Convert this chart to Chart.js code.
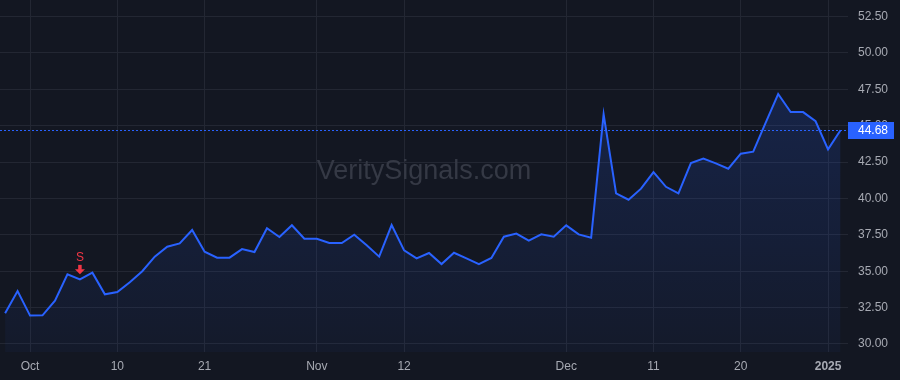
<!DOCTYPE html>
<html>
<head>
<meta charset="utf-8">
<script src="https://cdn.jsdelivr.net/npm/chart.js@4.4.1/dist/chart.umd.min.js"></script>
<style>
  html, body { margin: 0; padding: 0; background: #131722; }
  #wrap { width: 900px; height: 380px; }
</style>
</head>
<body>
<div id="wrap"><canvas id="chart"></canvas></div>
<script>
// trading days shown on the chart
const dates = [
  '2024-09-27','2024-09-30',
  '2024-10-01','2024-10-02','2024-10-03','2024-10-04','2024-10-07','2024-10-08','2024-10-09','2024-10-10',
  '2024-10-11','2024-10-14','2024-10-15','2024-10-16','2024-10-17','2024-10-18','2024-10-21','2024-10-22',
  '2024-10-23','2024-10-24','2024-10-25','2024-10-28','2024-10-29','2024-10-30','2024-10-31',
  '2024-11-01','2024-11-04','2024-11-05','2024-11-06','2024-11-07','2024-11-08','2024-11-11','2024-11-12',
  '2024-11-13','2024-11-14','2024-11-15','2024-11-18','2024-11-19','2024-11-20','2024-11-21','2024-11-22',
  '2024-11-25','2024-11-26','2024-11-27','2024-11-29',
  '2024-12-02','2024-12-03','2024-12-04','2024-12-05','2024-12-06','2024-12-09','2024-12-10','2024-12-11',
  '2024-12-12','2024-12-13','2024-12-16','2024-12-17','2024-12-18','2024-12-19','2024-12-20','2024-12-23',
  '2024-12-24','2024-12-26','2024-12-27','2024-12-30','2024-12-31',
  '2025-01-02','2025-01-03'
];

const closes = [
  32.11, 33.64,
  31.95, 31.97, 32.97, 34.79, 34.44, 34.90, 33.41, 33.57,
  34.24, 35.00, 36.00, 36.68, 36.91, 37.83, 36.34, 35.93,
  35.93, 36.52, 36.32, 37.95, 37.35, 38.16, 37.23,
  37.23, 36.94, 36.94, 37.51, 36.78, 36.00, 38.17, 36.43,
  35.88, 36.25, 35.49, 36.27, 35.88, 35.49, 35.91, 37.37,
  37.58, 37.10, 37.53, 37.37,
  38.15, 37.53, 37.30, 45.78, 40.35, 39.91, 40.67, 41.81,
  40.80, 40.35, 42.43, 42.73, 42.41, 42.04, 43.07, 43.21,
  45.20, 47.17, 45.93, 45.93, 45.30,
  43.37, 44.68
];

const tickDates = ['2024-10-01','2024-10-10','2024-10-21','2024-11-01','2024-11-12','2024-12-02','2024-12-11','2024-12-20','2025-01-02'];
const tickLabels = ['Oct','10','21','Nov','12','Dec','11','20','2025'];
const priceTicks = [30, 32.5, 35, 37.5, 40, 42.5, 45, 47.5, 50, 52.5];
const signalDates = ['2024-10-07'];
const signalLabels = ['S'];

const BLUE = '#2962ff';
const GRID = '#232733';
const TEXT = '#a7aab3';

const points = closes.map((v, i) => ({ x: i, y: v }));
const lastPrice = closes[closes.length - 1];

const chartExtras = {
  id: 'chartExtras',
  beforeDraw(chart) {
    const ctx = chart.ctx;
    ctx.save();
    ctx.fillStyle = '#131722';
    ctx.fillRect(0, 0, chart.width, chart.height);
    ctx.restore();
  },
  beforeDatasetsDraw(chart) {
    const { ctx, chartArea: a, scales: { y } } = chart;
    ctx.save();
    // watermark
    ctx.font = '27px "Liberation Sans", Arial, sans-serif';
    ctx.fillStyle = '#353945';
    ctx.textAlign = 'center';
    ctx.textBaseline = 'middle';
    ctx.fillText('VeritySignals.com', (a.left + a.right) / 2, (a.top + a.bottom) / 2 - 4);
    // last price dotted line
    const py = Math.round(y.getPixelForValue(lastPrice)) + 0.5;
    ctx.strokeStyle = BLUE;
    ctx.lineWidth = 1;
    ctx.setLineDash([2, 2]);
    ctx.beginPath();
    ctx.moveTo(a.left, py);
    ctx.lineTo(a.right, py);
    ctx.stroke();
    ctx.restore();
  },
  afterDatasetsDraw(chart) {
    const { ctx, chartArea: a, scales: { x, y } } = chart;
    ctx.save();
    // signal markers
    signalDates.forEach((d, k) => {
      const i = dates.indexOf(d);
      const px = x.getPixelForValue(i);
      const py = y.getPixelForValue(closes[i]);
      ctx.fillStyle = '#f23645';
      ctx.beginPath();
      ctx.moveTo(px, py - 5);
      ctx.lineTo(px - 5, py - 10);
      ctx.lineTo(px + 5, py - 10);
      ctx.closePath();
      ctx.fill();
      ctx.fillRect(px - 1.75, py - 14.5, 3.5, 5);
      ctx.font = '12px "Liberation Sans", Arial, sans-serif';
      ctx.textAlign = 'center';
      ctx.textBaseline = 'middle';
      ctx.fillText(signalLabels[k], px, py - 22);
    });
    // last price label on the axis
    const py = y.getPixelForValue(lastPrice);
    ctx.fillStyle = BLUE;
    ctx.fillRect(a.right, Math.round(py) - 8, 46, 17);
    ctx.fillStyle = '#ffffff';
    ctx.font = '12px "Liberation Sans", Arial, sans-serif';
    ctx.textAlign = 'left';
    ctx.textBaseline = 'middle';
    ctx.fillText(lastPrice.toFixed(2), a.right + 10, Math.round(py) + 0.5);
    ctx.restore();
  }
};

new Chart(document.getElementById('chart').getContext('2d'), {
  type: 'line',
  data: {
    datasets: [{
      data: points,
      borderColor: BLUE,
      borderWidth: 2,
      pointRadius: 0,
      tension: 0,
      fill: 'start',
      backgroundColor: (c) => {
        const area = c.chart.chartArea;
        if (!area) return 'rgba(41,98,255,0.1)';
        const g = c.chart.ctx.createLinearGradient(0, area.top, 0, area.bottom);
        g.addColorStop(0, 'rgba(41,98,255,0.22)');
        g.addColorStop(1, 'rgba(41,98,255,0.04)');
        return g;
      }
    }]
  },
  options: {
    responsive: true,
    maintainAspectRatio: false,
    animation: false,
    layout: { padding: 0 },
    plugins: { legend: { display: false }, tooltip: { enabled: false } },
    scales: {
      x: {
        type: 'linear',
        min: -0.41,
        max: 67.6,
        afterBuildTicks: (s) => { s.ticks = tickDates.map(d => ({ value: dates.indexOf(d) })); },
        afterFit: (s) => { s.height = 28; s.paddingLeft = 0; s.paddingRight = 0; },
        grid: { color: GRID, drawTicks: false },
        border: { display: false },
        ticks: {
          autoSkip: false,
          maxRotation: 0,
          padding: 7,
          color: TEXT,
          font: (c) => ({ family: '"Liberation Sans", Arial, sans-serif', size: 12, weight: tickLabels[c.index] === '2025' ? 'bold' : 'normal' }),
          callback: (v, i) => tickLabels[i]
        }
      },
      y: {
        position: 'right',
        min: 29.45,
        max: 53.63,
        afterBuildTicks: (s) => { s.ticks = priceTicks.map(v => ({ value: v })); },
        afterFit: (s) => { s.width = 52; s.paddingTop = 0; s.paddingBottom = 0; },
        grid: { color: GRID, drawTicks: false },
        border: { display: false },
        ticks: {
          padding: 10,
          color: TEXT,
          font: { family: '"Liberation Sans", Arial, sans-serif', size: 12 },
          callback: (v) => Number(v).toFixed(2)
        }
      }
    }
  },
  plugins: [chartExtras]
});
</script>
</body>
</html>
